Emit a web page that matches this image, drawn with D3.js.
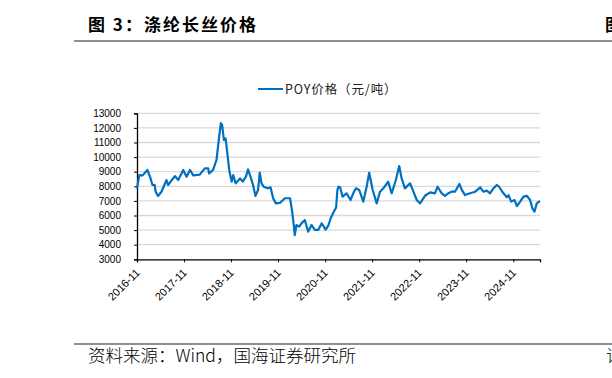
<!DOCTYPE html>
<html><head><meta charset="utf-8">
<script src="https://cdn.jsdelivr.net/npm/d3@7"></script>
<style>
html,body{margin:0;padding:0;background:#fff;}
svg{display:block;}
</style></head>
<body>
<svg id="chart" width="612" height="378"></svg>
<script>
const titleText = "图 3：涤纶长丝价格";
const sourceText = "资料来源：Wind，国海证券研究所";
const seriesName = "POY价格（元/吨）";
const yTicks = [3000,4000,5000,6000,7000,8000,9000,10000,11000,12000,13000];
const xTickLabels = ["2016-11","2017-11","2018-11","2019-11","2020-11","2021-11","2022-11","2023-11","2024-11"];
const dates = [
"2016-11-01","2016-11-19","2016-12-15","2017-01-20","2017-02-10","2017-03-01","2017-03-18","2017-03-26","2017-04-13","2017-05-10",
"2017-06-18","2017-06-30","2017-08-22","2017-09-17","2017-10-26","2017-11-21","2017-12-17","2018-01-12","2018-03-03","2018-04-12",
"2018-05-07","2018-05-15","2018-06-15","2018-07-11","2018-08-01","2018-08-14","2018-08-24","2018-09-07","2018-09-20","2018-10-02",
"2018-10-18","2018-11-06","2018-11-18","2018-12-07","2019-01-10","2019-01-31","2019-02-25","2019-03-13","2019-04-01","2019-04-21",
"2019-05-10","2019-05-30","2019-06-12","2019-06-26","2019-07-13","2019-08-16","2019-09-04","2019-09-24","2019-10-15","2019-11-15",
"2019-12-24","2020-02-02","2020-02-15","2020-02-27","2020-03-10","2020-03-23","2020-04-13","2020-05-01","2020-05-27","2020-06-22",
"2020-07-18","2020-08-13","2020-09-08","2020-10-05","2020-11-05","2020-11-25","2020-12-14","2021-01-04","2021-01-25","2021-02-04",
"2021-02-12","2021-02-25","2021-03-16","2021-04-16","2021-05-17","2021-06-07","2021-06-28","2021-07-23","2021-08-24","2021-09-19",
"2021-10-09","2021-11-05","2021-12-06","2022-01-01","2022-01-27","2022-03-05","2022-04-01","2022-05-04","2022-05-30","2022-06-18",
"2022-07-13","2022-08-22","2022-09-12","2022-10-13","2022-11-08","2022-12-16","2023-01-25","2023-03-03","2023-03-24","2023-04-25",
"2023-05-20","2023-06-15","2023-07-11","2023-08-06","2023-09-09","2023-09-28","2023-10-23","2023-12-01","2024-01-10","2024-02-18",
"2024-03-13","2024-04-09","2024-05-04","2024-05-30","2024-06-26","2024-07-13","2024-08-16","2024-09-12","2024-09-25","2024-10-15",
"2024-11-10","2024-11-29","2024-12-24","2025-01-19","2025-02-15","2025-03-11","2025-03-29","2025-04-14","2025-05-02","2025-05-27"];
const values = [
7860,8770,8750,9120,8660,8090,8100,7630,7340,7630,
8430,8090,8700,8430,9120,8660,9120,8750,8800,9230,
9230,8880,9120,9800,11400,12320,12200,11170,11280,10370,
9120,8320,8770,8200,8540,8320,8660,9160,8660,8090,
7340,7750,8930,8200,7970,7860,7930,7180,6830,6860,
7180,7180,6490,5690,4660,5350,5240,5460,5690,4890,
5350,5010,5010,5460,5030,5300,5810,6200,6550,7750,
7970,7930,7290,7520,7060,7520,7860,7750,6950,7970,
8930,7750,6830,7630,7860,8320,7520,8430,9390,8540,
7860,8200,7750,7060,6830,7350,7580,7520,7970,7520,
7340,7520,7630,7630,8160,7750,7400,7520,7630,7930,
7630,7700,7520,7860,8090,7970,7520,7250,7400,6950,
7060,6650,6950,7290,7340,7060,6490,6260,6830,7000];

const parse = d3.timeParse("%Y-%m-%d");
const data = dates.map((d,i)=>({date:parse(d), value:values[i]}));

const svg = d3.select("#chart");
const L = 137, R = 540, T = 113.3, B = 259.3;

const x = d3.scaleTime().domain([data[0].date, data[data.length-1].date]).range([L, R]);
const y = d3.scaleLinear().domain([3000, 13000]).range([B, T]);

// header / footer
svg.append("text").attr("x", 88).attr("y", 31)
  .attr("font-family", "'Noto Sans CJK SC', sans-serif").attr("font-weight", "bold")
  .attr("font-size", 17).attr("letter-spacing", 2).attr("fill", "#000").text(titleText);
svg.append("text").attr("x", 605).attr("y", 31)
  .attr("font-family", "'Noto Sans CJK SC', sans-serif").attr("font-weight", "bold")
  .attr("font-size", 17).attr("fill", "#000").text("图");
svg.append("line").attr("x1", 74).attr("x2", 612).attr("y1", 41).attr("y2", 41)
  .attr("stroke", "#6b6b6b").attr("stroke-width", 1.5);
svg.append("line").attr("x1", 74).attr("x2", 612).attr("y1", 344).attr("y2", 344)
  .attr("stroke", "#6b6b6b").attr("stroke-width", 1.5);
svg.append("text").attr("x", 88).attr("y", 362)
  .attr("font-family", "'Noto Sans CJK SC', sans-serif").attr("font-weight", 300)
  .attr("font-size", 17.5).attr("fill", "#000").text(sourceText);
svg.append("text").attr("x", 606).attr("y", 362)
  .attr("font-family", "'Noto Sans CJK SC', sans-serif").attr("font-weight", 300)
  .attr("font-size", 17.5).attr("fill", "#000").text("请");

// legend
svg.append("line").attr("x1", 258).attr("x2", 283).attr("y1", 89).attr("y2", 89)
  .attr("stroke", "#0070C0").attr("stroke-width", 2);
svg.append("text").attr("x", 285).attr("y", 93.5)
  .attr("font-family", "'Noto Sans CJK SC', sans-serif")
  .attr("font-size", 12.5).attr("letter-spacing", 0.9).attr("fill", "#222").text(seriesName);

// gridlines
svg.append("g").selectAll("line").data(yTicks.filter(v=>v>3000)).join("line")
  .attr("x1", L).attr("x2", R).attr("y1", d=>y(d)).attr("y2", d=>y(d))
  .attr("stroke", "#d9d9d9").attr("stroke-width", 1.3);

// y axis
const yAxis = svg.append("g").attr("transform", `translate(${L},0)`)
  .call(d3.axisLeft(y).tickValues(yTicks).tickSize(3).tickPadding(13).tickFormat(d3.format("d")));
yAxis.select(".domain").attr("stroke", "#000").attr("stroke-width", 1.3);
yAxis.selectAll(".tick line").attr("stroke", "#000");
yAxis.selectAll("text").attr("font-family", "'Liberation Sans', Arial, sans-serif")
  .attr("font-size", 10).attr("fill", "#000");

// x axis
const xTickDates = xTickLabels.map(s => d3.timeParse("%Y-%m")(s));
const xAxis = svg.append("g").attr("transform", `translate(0,${B})`)
  .call(d3.axisBottom(x).tickValues(xTickDates).tickSize(3).tickFormat((d,i)=>xTickLabels[i]));
xAxis.select(".domain").attr("stroke", "#000").attr("stroke-width", 1.3);
xAxis.selectAll(".tick line").attr("stroke", "#000");
xAxis.selectAll("text")
  .attr("font-family", "'Liberation Sans', Arial, sans-serif").attr("font-size", 11).attr("fill", "#000")
  .attr("text-anchor", "end").attr("x", 0).attr("y", 0).attr("dy", 0)
  .attr("transform", "translate(3,14) rotate(-45)");

// series line
svg.append("path").datum(data)
  .attr("fill", "none").attr("stroke", "#0070C0").attr("stroke-width", 2.2)
  .attr("stroke-linejoin", "round")
  .attr("d", d3.line().x(d=>x(d.date)).y(d=>y(d.value)));
</script>
</body></html>
